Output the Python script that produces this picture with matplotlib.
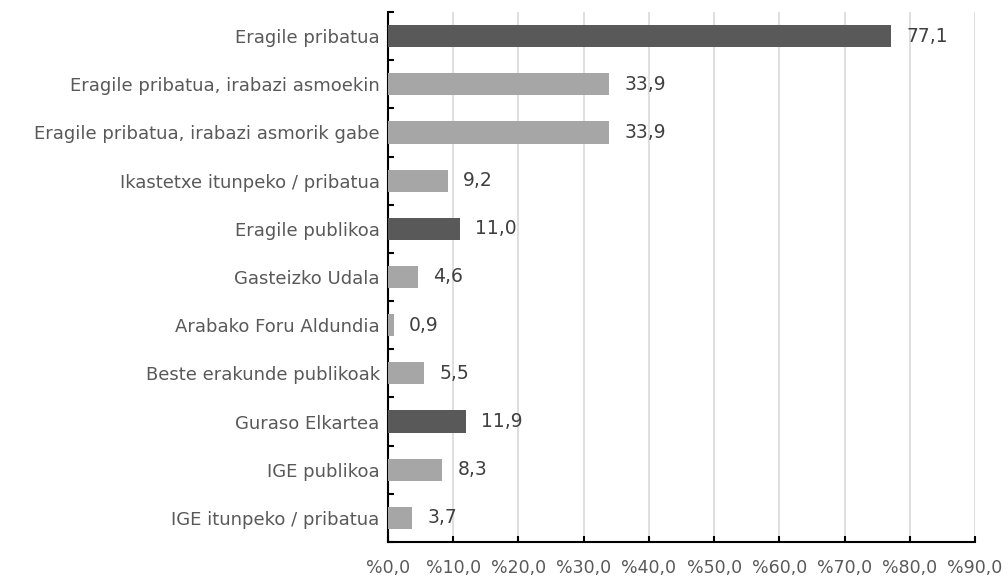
import matplotlib
matplotlib.use('Agg')
import matplotlib.pyplot as plt
import numpy as np

categories = [
    "Eragile pribatua",
    "Eragile pribatua, irabazi asmoekin",
    "Eragile pribatua, irabazi asmorik gabe",
    "Ikastetxe itunpeko / pribatua",
    "Eragile publikoa",
    "Gasteizko Udala",
    "Arabako Foru Aldundia",
    "Beste erakunde publikoak",
    "Guraso Elkartea",
    "IGE publikoa",
    "IGE itunpeko / pribatua",
]
values = [77.1, 33.9, 33.9, 9.2, 11.0, 4.6, 0.9, 5.5, 11.9, 8.3, 3.7]
is_total = [True, False, False, False, True, False, False, False, True, False, False]
xticks = list(range(0, 91, 10))

DARK = "#595959"
LIGHT = "#a6a6a6"
TEXT = "#595959"

fig = plt.figure(figsize=(10.08, 5.79), dpi=100)
# axes box placed to match the reference pixel layout
ax = fig.add_axes([388 / 1008, 1 - 542 / 579, 587 / 1008, 530 / 579])

y = np.arange(len(categories))
colors = [DARK if t else LIGHT for t in is_total]
ax.barh(y, values, height=0.46, color=colors, zorder=3)

# value labels next to the bars
for yi, v in zip(y, values):
    ax.annotate(f"{v:.1f}".replace(".", ","), (v, yi), xytext=(11, 0),
                textcoords="offset points", va="center", ha="left",
                fontsize=13.5, color="#404040")

ax.set_ylim(len(categories) - 0.5, -0.5)
ax.set_xlim(0, 90)
ax.set_xticks(xticks)
ax.set_xticklabels([f"%{t},0" for t in xticks], fontsize=12.5, color=TEXT)
ax.set_yticks(y)
ax.set_yticklabels(categories, fontsize=13, color=TEXT)
ax.tick_params(axis="y", which="major", length=0, pad=6)
ax.set_yticks(np.arange(-0.5, len(categories), 1), minor=True)
ax.tick_params(axis="y", which="minor", length=4, width=1.5, color="black", direction="in")
ax.tick_params(axis="x", which="major", length=4, width=1.5, color="black",
               direction="in", pad=12)

ax.grid(axis="x", color="#d9d9d9", linewidth=1.2, zorder=0)
for s in ["top", "right"]:
    ax.spines[s].set_visible(False)
ax.spines["left"].set_linewidth(1.5)
ax.spines["bottom"].set_linewidth(1.5)

fig.savefig("out.png", dpi=100)
